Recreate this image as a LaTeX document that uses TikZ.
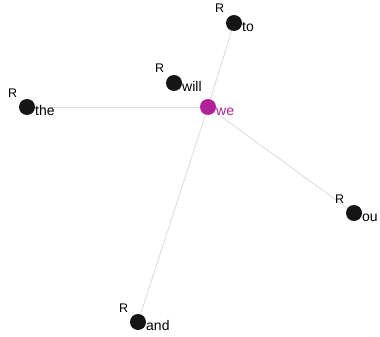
\documentclass[tikz,border=0pt]{standalone}
\usepackage{fontspec}
\setmainfont{Liberation Sans}
\usetikzlibrary{calc,backgrounds}
\definecolor{hub}{HTML}{B0229A}
\definecolor{dot}{HTML}{151515}
\definecolor{edge}{HTML}{DADADA}
\tikzset{
  x=1pt, y=-1pt,
  vertex/.style={circle, fill=dot, minimum size=16pt, inner sep=0pt},
  hubvertex/.style={vertex, fill=hub},
  word/.style={font=\fontsize{14}{14}\selectfont, inner sep=0pt, anchor=base west},
  tag/.style={font=\fontsize{12.5}{12.5}\selectfont, inner sep=0pt, anchor=base west},
  link/.style={draw=edge, line width=0.8pt}
}
\begin{document}
\begin{tikzpicture}
\useasboundingbox (0,0) rectangle (380,337);
% vertices
\node[hubvertex] (we)   at (208,107) {};
\node[vertex]    (will) at (174,83)  {};
\node[vertex]    (the)  at (27,107)  {};
\node[vertex]    (to)   at (234,23)  {};
\node[vertex]    (ou)   at (354,213) {};
\node[vertex]    (and)  at (138,322) {};
% edges from the hub, drawn behind the vertices
\begin{scope}[on background layer]
  \draw[link] (we.center) -- (the.center);
  \draw[link] (we.center) -- (to.center);
  \draw[link] (we.center) -- (ou.center);
  \draw[link] (we.center) -- (and.center);
\end{scope}
% word labels
\node[word, text=hub] (lwe) at ($(we)+(8,8)$)   {we};
\node[word] (lwill) at ($(will)+(8,8.5)$) {will};
\node[word] (lthe)  at ($(the)+(8,8.5)$)  {the};
\node[word] (lto)   at ($(to)+(8,8.5)$)   {to};
\node[word] (lou)   at ($(ou)+(8,8.5)$)   {ou};
\node[word] (land)  at ($(and)+(8,8.5)$)  {and};
% role tags
\node[tag] (rwill) at ($(will)+(-19,-10)$) {R};
\node[tag] (rthe)  at ($(the)+(-19,-10)$)  {R};
\node[tag] (rto)   at ($(to)+(-19,-10)$)   {R};
\node[tag] (rou)   at ($(ou)+(-19,-10)$)   {R};
\node[tag] (rand)  at ($(and)+(-19,-10)$)  {R};
\end{tikzpicture}
\end{document}
